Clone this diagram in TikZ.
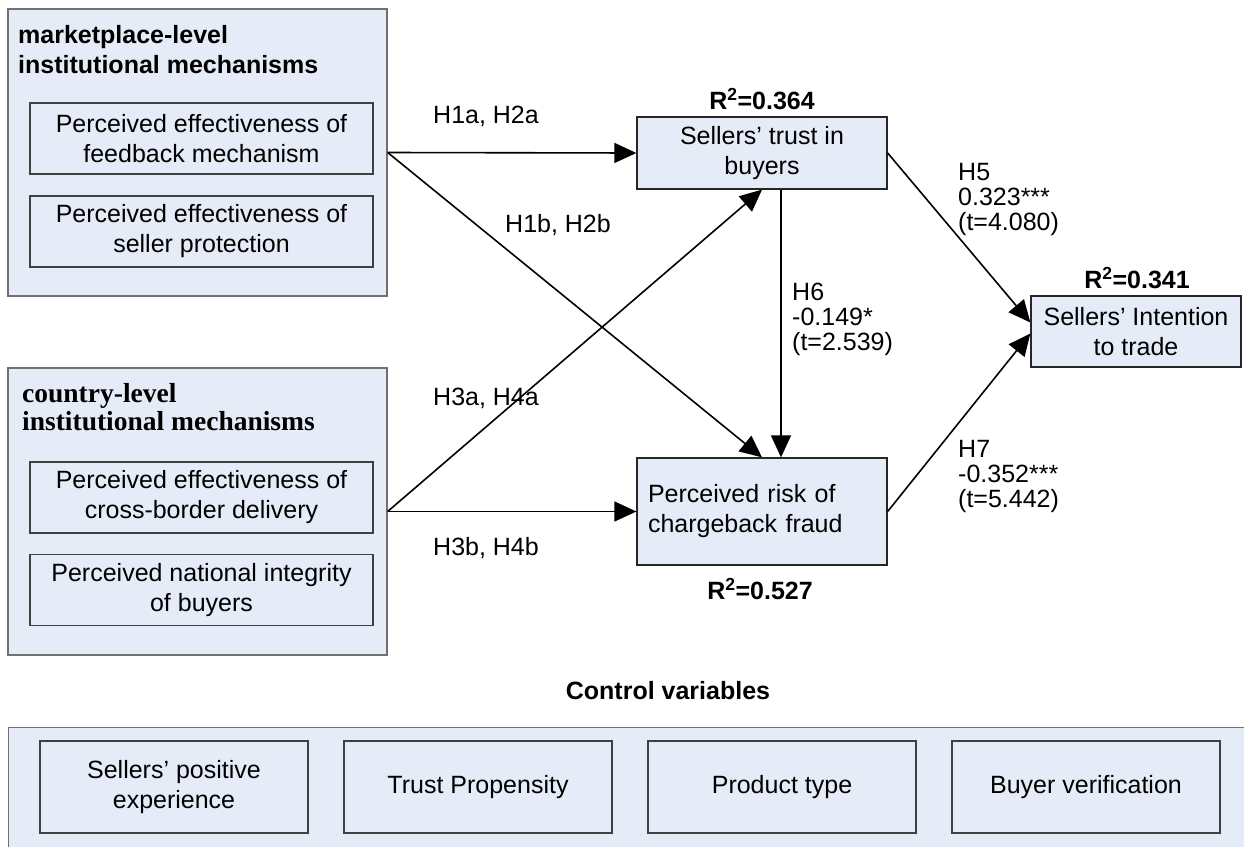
\documentclass[tikz,border=0pt]{standalone}
\usepackage{fontspec}
\setmainfont{Liberation Sans}
\newfontfamily\titleserif{Liberation Serif}
\usetikzlibrary{arrows.meta}

\definecolor{panelfill}{RGB}{230,236,247}
\definecolor{panelline}{RGB}{112,112,112}
\definecolor{boxline}{RGB}{64,64,64}

\tikzset{
  panel/.style={draw=panelline, fill=panelfill, line width=1.3pt, inner sep=0pt},
  measure/.style={draw=boxline, fill=panelfill, line width=1.1pt, inner sep=0pt,
    minimum width=343pt, minimum height=71pt, align=center,
    font=\fontsize{25}{30}\selectfont},
  construct/.style={draw=black!85, fill=panelfill, line width=1.3pt, inner sep=0pt,
    minimum width=250pt, minimum height=72pt, align=center,
    font=\fontsize{25}{30}\selectfont},
  control/.style={measure, minimum width=268pt, minimum height=92pt},
  hyp/.style={inner sep=0pt, align=left, font=\fontsize{25}{25}\selectfont},
  rsq/.style={inner sep=0pt, font=\bfseries\fontsize{25}{25}\selectfont},
  link/.style={line width=1.6pt, -{Triangle[length=22pt,width=20pt]}},
}

\begin{document}
\begin{tikzpicture}[x=1pt,y=-1pt]
  \useasboundingbox (0,0) rectangle (1244,846);
  \clip (0,0) rectangle (1244,846);

  % marketplace-level group
  \node[panel, minimum width=379pt, minimum height=287pt] (mkt) at (197.5,152.5) {};
  \node[inner sep=0pt, anchor=north west, align=left,
    font=\bfseries\fontsize{25}{30}\selectfont] (mkttitle) at (18,25)
    {marketplace-level\\institutional mechanisms};
  \node[measure] (feedback) at (201.5,138.5) {Perceived effectiveness of\\feedback mechanism};
  \node[measure] (protection) at (201.5,231.5) {Perceived effectiveness of\\seller protection};

  % country-level group
  \node[panel, minimum width=379pt, minimum height=287pt] (cty) at (197.5,511.5) {};
  \node[inner sep=0pt, anchor=north west, align=left,
    font=\titleserif\bfseries\fontsize{27.5}{28}\selectfont] (ctytitle) at (22,383)
    {country-level\\institutional mechanisms};
  \node[measure] (delivery) at (201.5,497.5) {Perceived effectiveness of\\cross-border delivery};
  \node[measure] (integrity) at (201.5,590) {Perceived national integrity\\of buyers};

  % constructs
  \node[construct] (trust) at (762,153) {Sellers’ trust in\\buyers};
  \node[construct, minimum height=107pt, text width=228pt, align=left,
    inner xsep=11pt] (risk) at (762,511.5) {Perceived risk of\\chargeback fraud};
  \node[construct, minimum width=210pt, minimum height=71pt] (intent) at (1136,331.5)
    {Sellers’ Intention\\to trade};

  \node[rsq] (rtrust) at (762,99) {R\textsuperscript{2}=0.364};
  \node[rsq] (rrisk) at (760,589) {R\textsuperscript{2}=0.527};
  \node[rsq] (rintent) at (1137,278) {R\textsuperscript{2}=0.341};

  % paths
  \draw[link] (mkt.east) -- (trust.west);
  \draw[link] (mkt.east) -- (risk.north);
  \draw[link] (cty.east) -- (trust.south);
  \draw[link] (cty.east) -- (risk.west);
  \draw[link] ([xshift=19pt]trust.south) -- ([xshift=19pt]risk.north);
  \draw[link] (trust.east) -- ([yshift=9pt]intent.west);
  \draw[link] (risk.east) -- ([yshift=-2pt]intent.west);

  \node[hyp, anchor=base west] (l1a) at (433,123) {H1a, H2a};
  \node[hyp, anchor=base west] (l1b) at (505,232) {H1b, H2b};
  \node[hyp, anchor=base west] (l3a) at (433,405) {H3a, H4a};
  \node[hyp, anchor=base west] (l3b) at (433,555) {H3b, H4b};
  \node[hyp, anchor=north west] (l6) at (792,283) {H6\\-0.149*\\(t=2.539)};
  \node[hyp, anchor=north west] (l5) at (958,163) {H5\\0.323***\\(t=4.080)};
  \node[hyp, anchor=north west] (l7) at (958,440) {H7\\-0.352***\\(t=5.442)};

  % control variables
  \node[inner sep=0pt, anchor=base, font=\bfseries\fontsize{25}{25}\selectfont]
    (ctrltitle) at (668,699) {Control variables};
  \node[panel, anchor=north west, minimum width=1260pt, minimum height=140pt] (ctrl) at (8,727) {};
  \node[control] (experience) at (174,787) {Sellers’ positive\\experience};
  \node[control] (propensity) at (478,787) {Trust Propensity};
  \node[control] (product) at (782,787) {Product type};
  \node[control] (verification) at (1086,787) {Buyer verification};
\end{tikzpicture}
\end{document}
